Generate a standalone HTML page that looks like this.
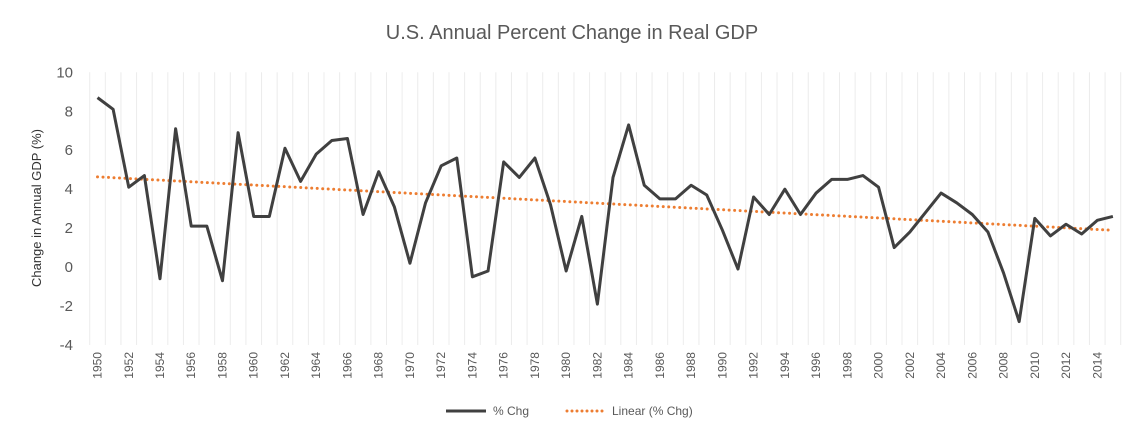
<!DOCTYPE html>
<html><head><meta charset="utf-8"><style>
body{margin:0;background:#fff;font-family:"Liberation Sans",sans-serif;}
svg text{font-family:"Liberation Sans",sans-serif;}
</style></head><body>
<svg id="chart" width="1144" height="441" xmlns="http://www.w3.org/2000/svg">
<text x="572" y="39" text-anchor="middle" font-size="20" fill="#595959">U.S. Annual Percent Change in Real GDP</text>
<text transform="translate(41,208) rotate(-90)" text-anchor="middle" font-size="13" fill="#333">Change in Annual GDP (%)</text>
<g id="grid"></g><g id="yticks"></g><g id="xticks"></g><g id="series"></g>
<g>
<line x1="446" y1="411" x2="486" y2="411" stroke="#404040" stroke-width="3"/>
<text x="493" y="415" font-size="12" fill="#595959">% Chg</text>
<line x1="567" y1="411" x2="605" y2="411" stroke="#ED7D31" stroke-width="3" stroke-dasharray="0,5" stroke-linecap="round"/>
<text x="612" y="415" font-size="12" fill="#595959">Linear (% Chg)</text>
</g>
</svg>
<script>
const years=[];for(let y=1950;y<=2015;y++)years.push(y);
const values=[8.7,8.1,4.1,4.7,-0.6,7.1,2.1,2.1,-0.7,6.9,2.6,2.6,6.1,4.4,5.8,6.5,6.6,2.7,4.9,3.1,0.2,3.3,5.2,5.6,-0.5,-0.2,5.4,4.6,5.6,3.2,-0.2,2.6,-1.9,4.6,7.3,4.2,3.5,3.5,4.2,3.7,1.9,-0.1,3.6,2.7,4.0,2.7,3.8,4.5,4.5,4.7,4.1,1.0,1.8,2.8,3.8,3.3,2.7,1.8,-0.3,-2.8,2.5,1.6,2.2,1.7,2.4,2.6];
const yTicks=[-4,-2,0,2,4,6,8,10];
const NS='http://www.w3.org/2000/svg';
const L=89.7,R=1120.7,T=72.3,B=345;
const bw=(R-L)/years.length;
const xs=i=>L+bw*(i+0.5);
const ys=v=>B-(v+4)/14*(B-T);
function mk(tag,at,parent){const e=document.createElementNS(NS,tag);for(const k in at)e.setAttribute(k,at[k]);document.getElementById(parent).appendChild(e);return e;}
for(let i=0;i<=years.length;i++){
 const g=mk('line',{x1:L+bw*i,x2:L+bw*i,y1:T,y2:B,stroke:'#ececec','stroke-width':1},'grid');
 
 
}
yTicks.forEach(v=>{
 const t=mk('text',{x:73,y:ys(v)+5,'text-anchor':'end','font-size':15,fill:'#595959'},'yticks');
 t.textContent=v;
 
 
});
years.forEach((y,i)=>{
 if(y%2)return;
 const x=xs(i)+4,yy=352;
 const t=mk('text',{x:x,y:yy,transform:`rotate(-90 ${x} ${yy})`,'text-anchor':'end','font-size':12,fill:'#595959'},'xticks');
 t.textContent=y;
 
 
});
const n=values.length;let sx=0,sy=0,sxy=0,sxx=0;
values.forEach((v,i)=>{sx+=i;sy+=v;sxy+=i*v;sxx+=i*i;});
const m=(n*sxy-sx*sy)/(n*sxx-sx*sx),b=(sy-m*sx)/n;
const tr=mk('line',{x1:xs(0),y1:ys(b),x2:xs(n-1),y2:ys(b+m*(n-1)),stroke:'#ED7D31','stroke-width':3,'stroke-dasharray':'0,5.5','stroke-linecap':'round'},'series');


const p=mk('polyline',{points:values.map((v,i)=>xs(i)+','+ys(v)).join(' '),fill:'none',stroke:'#404040','stroke-width':3,'stroke-linejoin':'round'},'series');


</script>
</body></html>
